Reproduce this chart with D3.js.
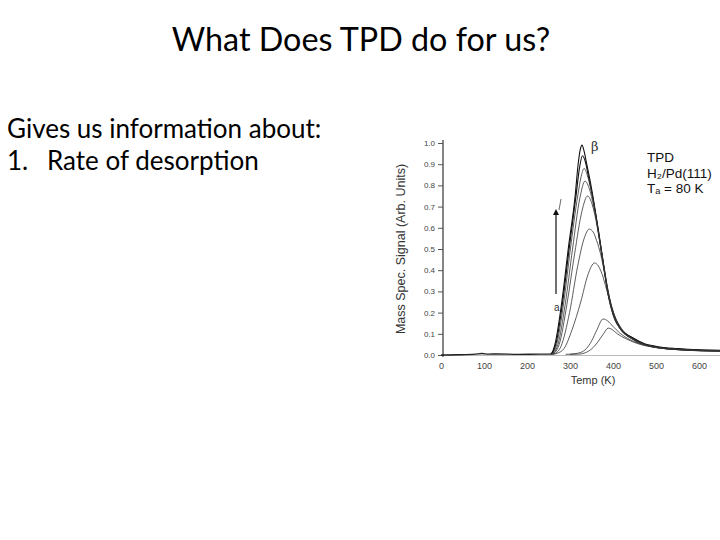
<!DOCTYPE html>
<html><head><meta charset="utf-8">
<script src="https://cdn.jsdelivr.net/npm/d3@7"></script>
<style>html,body{margin:0;padding:0;background:#fff;}svg{display:block;}</style>
</head><body>
<script>
// ---- data ----
const xTicks = [0, 100, 200, 300, 400, 500, 600];
const yTicks = [0.0, 0.1, 0.2, 0.3, 0.4, 0.5, 0.6, 0.7, 0.8, 0.9, 1.0];
const baseline = [[0,0.0],[40,0.001],[80,0.004],[95,0.007],[110,0.004],[130,0.005],[180,0.003],[230,0.004],[255,0.004]];
const curve1 = [[255,0.004],[258,0.01],[265,0.05],[281,0.25],[296,0.5],[312,0.75],[319,0.9],[324,0.97],[328,0.99],[333,0.96],[339,0.9],[347,0.82],[354,0.74],[366,0.59],[378,0.43],[389,0.29],[400,0.2],[416,0.13],[447,0.08],[475,0.052],[502,0.04],[550,0.03],[600,0.024],[650,0.022]];
const curve2 = [[255,0.004],[259,0.01],[267,0.05],[283,0.25],[298,0.5],[314,0.75],[322,0.88],[329,0.94],[336,0.91],[344,0.83],[354,0.73],[366,0.585],[378,0.425],[389,0.285],[400,0.195],[416,0.128],[447,0.078],[475,0.05],[502,0.038],[550,0.028],[600,0.023],[650,0.021]];
const curve3 = [[255,0.004],[261,0.01],[269,0.05],[285,0.24],[301,0.5],[318,0.75],[327,0.85],[333,0.88],[340,0.85],[348,0.79],[356,0.71],[366,0.58],[378,0.42],[389,0.28],[400,0.19],[416,0.125],[447,0.076],[475,0.049],[502,0.037],[550,0.027],[600,0.022],[650,0.02]];
const curve4 = [[256,0.004],[263,0.01],[272,0.05],[289,0.24],[306,0.5],[323,0.74],[335,0.82],[344,0.79],[352,0.73],[362,0.63],[372,0.5],[382,0.37],[392,0.26],[402,0.18],[418,0.12],[447,0.074],[475,0.048],[502,0.036],[550,0.026],[600,0.021],[650,0.019]];
const curve5 = [[257,0.004],[264,0.01],[275,0.05],[293,0.24],[311,0.48],[328,0.68],[341,0.75],[350,0.72],[358,0.66],[368,0.55],[378,0.43],[389,0.3],[400,0.2],[416,0.13],[447,0.074],[475,0.048],[502,0.036],[550,0.026],[600,0.021],[650,0.019]];
const curve6 = [[258,0.003],[266,0.008],[279,0.04],[299,0.2],[318,0.42],[333,0.55],[345,0.594],[354,0.58],[362,0.54],[372,0.47],[382,0.37],[392,0.27],[403,0.19],[418,0.125],[447,0.072],[475,0.047],[502,0.035],[550,0.026],[600,0.021],[650,0.019]];
const curve7 = [[260,0.003],[270,0.008],[286,0.03],[305,0.12],[325,0.25],[342,0.38],[357,0.434],[366,0.42],[375,0.38],[385,0.31],[395,0.24],[405,0.18],[420,0.125],[447,0.075],[475,0.048],[502,0.035],[550,0.026],[600,0.021],[650,0.019]];
const curve8 = [[290,0.003],[310,0.006],[325,0.012],[338,0.03],[350,0.065],[363,0.12],[377,0.17],[388,0.16],[400,0.135],[415,0.105],[440,0.072],[475,0.046],[502,0.035],[550,0.025],[600,0.02],[650,0.018]];
const curve9 = [[300,0.003],[320,0.004],[335,0.01],[350,0.028],[365,0.062],[378,0.1],[389,0.127],[398,0.12],[410,0.1],[430,0.077],[460,0.052],[500,0.035],[550,0.025],[600,0.02],[650,0.018]];
const curves = [curve1, curve2, curve3, curve4, curve5, curve6, curve7, curve8, curve9];
const titleText = "What Does TPD do for us?";
const bodyLines = ["Gives us information about:", "Rate of desorption"];
const legendLines = ["TPD", "H₂/Pd(111)", "Tₐ = 80 K"];

// ---- drawing ----
const W = 720, H = 540;
const svg = d3.select("body").append("svg").attr("width", W).attr("height", H);
const font = "Lato, 'Open Sans', sans-serif";

svg.append("text").attr("x", 361).attr("y", 51).attr("text-anchor", "middle")
  .attr("font-family", font).attr("font-size", 32.3).attr("fill", "#000").text(titleText);
svg.append("text").attr("x", 7).attr("y", 138).attr("font-family", font)
  .attr("font-size", 26).attr("fill", "#000").text(bodyLines[0]);
svg.append("text").attr("x", 7).attr("y", 170).attr("font-family", font)
  .attr("font-size", 26).attr("fill", "#000").text("1.");
svg.append("text").attr("x", 47).attr("y", 170).attr("font-family", font)
  .attr("font-size", 26).attr("fill", "#000").text(bodyLines[1]);

const x = d3.scaleLinear().domain([0, 649]).range([441, 720]);
const y = d3.scaleLinear().domain([0, 1]).range([355, 143]);
const afont = "'Liberation Sans', Arial, sans-serif";

// x axis
const xAxis = svg.append("g").attr("transform", "translate(0,355)")
  .call(d3.axisBottom(x).tickValues(xTicks).tickSize(0).tickPadding(8).tickFormat(d3.format("d")));
xAxis.select(".domain").attr("stroke", "#bbb").attr("stroke-width", 1);
xAxis.selectAll("text").attr("font-family", afont).attr("font-size", 9).attr("fill", "#444");

// y axis
const yAxis = svg.append("g").attr("transform", "translate(443,0)")
  .call(d3.axisLeft(y).tickValues(yTicks).tickSize(5).tickPadding(3).tickFormat(d3.format(".1f")));
yAxis.select(".domain").attr("stroke", "#222").attr("stroke-width", 1.1).attr("d", "M0,357V140");
yAxis.selectAll(".tick line").attr("stroke", "#555");
yAxis.selectAll("text").attr("font-family", afont).attr("font-size", 8).attr("fill", "#444");

svg.append("text").attr("x", 593).attr("y", 384).attr("text-anchor", "middle")
  .attr("font-family", afont).attr("font-size", 11).attr("fill", "#333").text("Temp (K)");
svg.append("text").attr("transform", "translate(405,249) rotate(-90)").attr("text-anchor", "middle")
  .attr("font-family", afont).attr("font-size", 12.5).attr("fill", "#333").text("Mass Spec. Signal (Arb. Units)");

const line = d3.line().x(d => x(d[0])).y(d => y(d[1])).curve(d3.curveMonotoneX);
svg.append("path").datum(baseline).attr("d", line).attr("fill", "none")
  .attr("stroke", "#222").attr("stroke-width", 1.4);
svg.selectAll("path.tpd").data(curves).enter().append("path").attr("class", "tpd")
  .attr("d", line).attr("fill", "none")
  .attr("stroke", (d, i) => i < 2 ? "#111" : "#333")
  .attr("stroke-width", (d, i) => i < 2 ? 1.1 : 0.8);

// arrow
svg.append("defs").append("marker").attr("id", "ah").attr("viewBox", "0 0 10 10")
  .attr("refX", 5).attr("refY", 5).attr("markerWidth", 5).attr("markerHeight", 7).attr("orient", "auto")
  .append("path").attr("d", "M0,0L10,5L0,10Z").attr("fill", "#111");
svg.append("line").attr("x1", 556).attr("y1", 294).attr("x2", 556).attr("y2", 212)
  .attr("stroke", "#111").attr("stroke-width", 1.2).attr("marker-end", "url(#ah)");
svg.append("line").attr("x1", 559).attr("y1", 210).attr("x2", 561).attr("y2", 199)
  .attr("stroke", "#444").attr("stroke-width", 0.8);
svg.append("text").attr("x", 554).attr("y", 311).attr("font-family", afont)
  .attr("font-size", 10).attr("fill", "#333").text("a");
svg.append("text").attr("x", 591).attr("y", 151).attr("font-family", "'DejaVu Serif', serif")
  .attr("font-size", 13).attr("fill", "#333").text("β");

// legend
legendLines.forEach((t, i) => {
  svg.append("text").attr("x", 647).attr("y", 162 + i * 15.5).attr("font-family", afont)
    .attr("font-size", 13.5).attr("fill", "#111").text(t);
});
</script>
</body></html>
